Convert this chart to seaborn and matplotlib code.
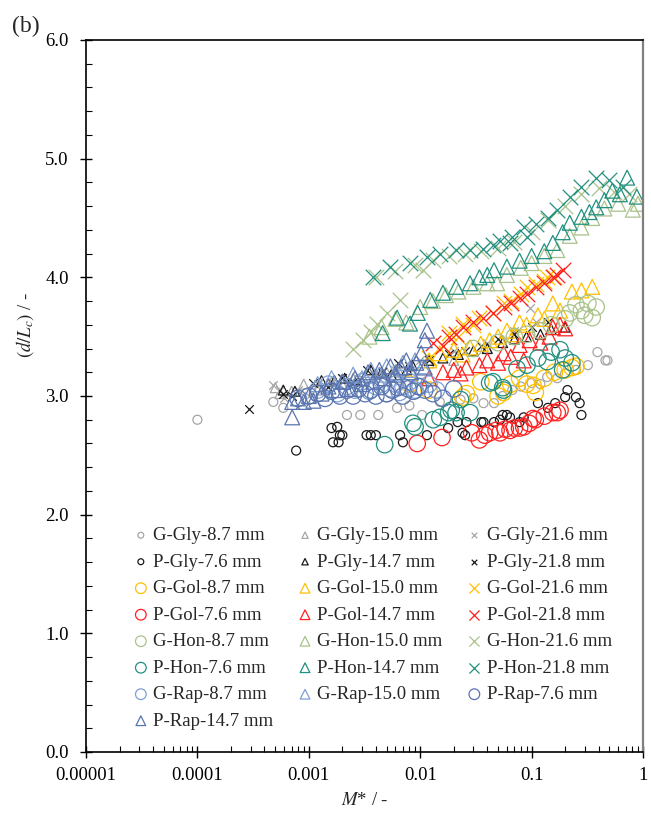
import numpy as np
import pandas as pd
import matplotlib
matplotlib.use("Agg")
import matplotlib.pyplot as plt
import seaborn as sns
from matplotlib.ticker import FixedLocator, FixedFormatter, LogLocator, MultipleLocator, NullFormatter

# ---- data: M* (x) and d/Lc (y) per series ----
g_gly_87_x = [1e-4, 4.8e-4, 5.9e-4, 2.2e-3, 2.9e-3, 4.2e-3, 6.2e-3, 8e-3, 0.0104, 0.015, 0.023, 0.03, 0.037,
              0.046, 0.055, 0.067, 0.08, 0.1, 0.12, 0.138, 0.17, 0.2, 0.25, 0.32, 0.39, 0.46, 0.48]
g_gly_87_y = [2.80, 2.95, 2.90, 2.84, 2.84, 2.84, 2.90, 2.92, 2.84, 2.95, 2.97, 2.98, 2.94,
              2.94, 3.00, 3.05, 3.08, 3.11, 3.10, 3.16, 3.15, 3.19, 3.22, 3.26, 3.37, 3.30, 3.30]
g_gly_150_x = [5e-4, 5.5e-4, 7e-4, 9e-4, 1.2e-3, 1.6e-3, 2e-3, 2.5e-3, 3e-3, 4e-3, 5e-3, 6.5e-3, 8e-3, 0.012, 0.02, 0.04]
g_gly_150_y = [3.07, 3.02, 3.04, 3.10, 3.05, 3.12, 3.10, 3.15, 3.12, 3.18, 3.20, 3.20, 3.25, 3.28, 3.30, 3.40]
g_gly_216_x = [4.8e-4, 5.5e-4, 6e-4, 8e-4, 1e-3, 1.2e-3, 1.6e-3, 2e-3, 3e-3, 4e-3, 6e-3, 0.01, 0.02, 0.04, 0.07, 0.096, 0.11]
g_gly_216_y = [3.09, 3.05, 2.98, 3.05, 3.00, 3.10, 3.12, 3.15, 3.15, 3.18, 3.22, 3.30, 3.38, 3.45, 3.55, 3.74, 3.62]
p_gly_76_x = [7.7e-4, 1.6e-3, 1.65e-3, 1.8e-3, 1.9e-3, 2.0e-3, 1.85e-3, 3.3e-3, 3.6e-3, 4.0e-3, 6.6e-3, 7.0e-3,
              0.0115, 0.0178, 0.0217, 0.024, 0.0253, 0.026, 0.0354, 0.037, 0.046, 0.052, 0.055, 0.06, 0.064,
              0.078, 0.085, 0.114, 0.14, 0.163, 0.2, 0.21, 0.25, 0.27, 0.28]
p_gly_76_y = [2.54, 2.73, 2.61, 2.74, 2.67, 2.67, 2.61, 2.67, 2.67, 2.67, 2.67, 2.61,
              2.67, 2.73, 2.78, 2.69, 2.67, 2.78, 2.78, 2.78, 2.78, 2.80, 2.84, 2.84, 2.82,
              2.78, 2.82, 2.94, 2.90, 2.94, 2.99, 3.05, 2.99, 2.94, 2.84]
p_gly_147_x = [5.9e-4, 7.5e-4, 1.3e-3, 1.7e-3, 2.1e-3, 2.7e-3, 3.6e-3, 4.5e-3, 5.5e-3, 7.6e-3, 8.5e-3, 0.012,
               0.016, 0.022, 0.03, 0.04, 0.055, 0.07, 0.09, 0.12, 0.15, 0.2]
p_gly_147_y = [3.05, 3.04, 3.13, 3.13, 3.15, 3.14, 3.22, 3.20, 3.18, 3.22, 3.26, 3.30,
               3.32, 3.35, 3.38, 3.40, 3.45, 3.48, 3.50, 3.52, 3.56, 3.58]
p_gly_218_x = [2.9e-4, 5.9e-4, 7e-4, 1.1e-3, 1.5e-3, 2e-3, 2.5e-3, 3.3e-3, 4.5e-3, 6.3e-3, 8e-3, 0.012, 0.018,
               0.025, 0.035, 0.05, 0.07, 0.1, 0.14]
p_gly_218_y = [2.89, 3.02, 3.00, 3.11, 3.08, 3.15, 3.12, 3.22, 3.20, 3.28, 3.25, 3.30, 3.35,
               3.38, 3.42, 3.48, 3.52, 3.58, 3.62]
g_gol_87_x = [0.008, 0.012, 0.024, 0.026, 0.035, 0.05, 0.056, 0.065, 0.078, 0.09, 0.103, 0.108, 0.13, 0.16, 0.2, 0.23, 0.25]
g_gol_87_y = [3.10, 3.05, 2.99, 3.02, 3.12, 3.00, 3.03, 3.10, 3.15, 3.10, 3.09, 3.03, 3.15, 3.20, 3.22, 3.24, 3.25]
g_gol_150_x = [0.012, 0.015, 0.02, 0.024, 0.028, 0.035, 0.042, 0.05, 0.06, 0.07, 0.078, 0.09, 0.114, 0.13, 0.155,
               0.18, 0.23, 0.28, 0.35]
g_gol_150_y = [3.30, 3.36, 3.39, 3.35, 3.41, 3.44, 3.47, 3.50, 3.55, 3.52, 3.62, 3.60, 3.68, 3.65, 3.78,
               3.72, 3.88, 3.89, 3.92]
g_gol_216_x = [0.012, 0.016, 0.018, 0.022, 0.024, 0.03, 0.034, 0.045, 0.056, 0.065, 0.08, 0.09, 0.11, 0.13, 0.138, 0.16]
g_gol_216_y = [3.32, 3.42, 3.53, 3.50, 3.61, 3.60, 3.66, 3.70, 3.78, 3.80, 3.86, 3.92, 3.94, 3.97, 4.00, 4.00]
p_gol_76_x = [0.0094, 0.0157, 0.029, 0.034, 0.038, 0.042, 0.048, 0.052, 0.058, 0.064, 0.07, 0.078, 0.085, 0.095,
              0.103, 0.108, 0.13, 0.155, 0.17, 0.18]
p_gol_76_y = [2.60, 2.65, 2.69, 2.63, 2.67, 2.69, 2.71, 2.69, 2.72, 2.71, 2.73, 2.73, 2.74, 2.77,
              2.81, 2.80, 2.83, 2.86, 2.86, 2.88]
p_gol_147_x = [0.012, 0.016, 0.02, 0.023, 0.026, 0.034, 0.04, 0.05, 0.056, 0.065, 0.078, 0.085, 0.096, 0.12,
               0.145, 0.155, 0.18, 0.2]
p_gol_147_y = [3.15, 3.20, 3.22, 3.19, 3.24, 3.26, 3.30, 3.28, 3.36, 3.33, 3.43, 3.30, 3.47, 3.45,
               3.50, 3.58, 3.60, 3.57]
p_gol_218_x = [0.013, 0.016, 0.018, 0.021, 0.024, 0.03, 0.037, 0.045, 0.056, 0.065, 0.078, 0.09, 0.11, 0.13,
               0.155, 0.17, 0.19]
p_gol_218_y = [3.45, 3.42, 3.50, 3.52, 3.58, 3.62, 3.66, 3.70, 3.75, 3.78, 3.83, 3.86, 3.92, 3.95,
               4.00, 4.02, 4.06]
g_hon_87_x = [0.03, 0.05, 0.07, 0.09, 0.12, 0.15, 0.2, 0.22, 0.25, 0.28, 0.3, 0.32, 0.35, 0.38]
g_hon_87_y = [3.40, 3.45, 3.50, 3.52, 3.55, 3.60, 3.65, 3.70, 3.77, 3.72, 3.68, 3.78, 3.66, 3.75]
g_hon_150_x = [0.0035, 0.0045, 0.006, 0.0075, 0.01, 0.013, 0.017, 0.022, 0.03, 0.04, 0.049, 0.06, 0.08, 0.1,
               0.13, 0.17, 0.22, 0.28, 0.35, 0.45, 0.6, 0.81, 0.9]
g_hon_150_y = [3.50, 3.58, 3.65, 3.62, 3.75, 3.80, 3.85, 3.88, 3.92, 3.95, 3.95, 4.02, 4.08, 4.12,
               4.18, 4.23, 4.35, 4.42, 4.50, 4.58, 4.62, 4.57, 4.62]
g_hon_216_x = [0.0025, 0.00307, 0.0036, 0.0041, 0.005, 0.0066, 0.0106, 0.004, 0.006, 0.009, 0.013, 0.018,
               0.025, 0.035, 0.05, 0.07, 0.1, 0.14, 0.2, 0.28, 0.4, 0.55, 0.75]
g_hon_216_y = [3.40, 3.47, 3.54, 3.61, 3.70, 3.81, 4.06, 4.00, 4.05, 4.10, 4.15, 4.18,
               4.20, 4.22, 4.25, 4.30, 4.38, 4.48, 4.60, 4.70, 4.75, 4.72, 4.70]
p_hon_76_x = [0.0048, 0.0086, 0.009, 0.0131, 0.015, 0.018, 0.019, 0.021, 0.023, 0.028, 0.042, 0.045, 0.055,
              0.056, 0.074, 0.091, 0.114, 0.138, 0.15, 0.18, 0.19, 0.2, 0.23]
p_hon_76_y = [2.59, 2.77, 2.74, 2.80, 2.82, 2.86, 2.88, 2.86, 2.97, 2.86, 3.11, 3.12, 3.07,
              3.05, 3.23, 3.26, 3.32, 3.29, 3.37, 3.39, 3.22, 3.32, 3.28]
p_hon_147_x = [0.0046, 0.0062, 0.0081, 0.0095, 0.0123, 0.016, 0.021, 0.028, 0.034, 0.04, 0.046, 0.06, 0.078,
               0.1, 0.13, 0.155, 0.19, 0.22, 0.28, 0.33, 0.38, 0.45, 0.53, 0.62, 0.72, 0.88]
p_hon_147_y = [3.53, 3.66, 3.61, 3.70, 3.81, 3.87, 3.92, 3.95, 4.00, 4.02, 4.06, 4.09, 4.14,
               4.18, 4.22, 4.29, 4.38, 4.46, 4.51, 4.55, 4.59, 4.65, 4.73, 4.70, 4.84, 4.68]
p_hon_218_x = [0.0038, 0.0054, 0.0081, 0.0115, 0.015, 0.021, 0.028, 0.037, 0.045, 0.052, 0.064, 0.067, 0.085,
               0.09, 0.11, 0.14, 0.17, 0.22, 0.28, 0.38, 0.5, 0.66]
p_hon_218_y = [4.00, 4.09, 4.12, 4.17, 4.20, 4.23, 4.23, 4.24, 4.27, 4.31, 4.29, 4.34, 4.42,
               4.34, 4.45, 4.50, 4.57, 4.68, 4.76, 4.84, 4.82, 4.76]
g_rap_87_x = [0.0012, 0.0015, 0.0018, 0.0022, 0.0026, 0.003, 0.0035, 0.004, 0.0045, 0.005, 0.0055, 0.006,
              0.0065, 0.007, 0.008, 0.009, 0.01, 0.012, 0.014]
g_rap_87_y = [3.05, 3.10, 3.02, 3.08, 3.05, 3.12, 3.04, 3.08, 3.10, 3.02, 3.06, 3.10,
              3.03, 3.08, 3.12, 3.05, 3.08, 3.10, 3.05]
g_rap_150_x = [0.0012, 0.0016, 0.002, 0.0025, 0.003, 0.0036, 0.0043, 0.005, 0.006, 0.007, 0.008, 0.009, 0.0105]
g_rap_150_y = [3.10, 3.15, 3.12, 3.18, 3.15, 3.22, 3.18, 3.25, 3.20, 3.28, 3.22, 3.30, 3.25]
p_rap_76_x = [0.0008, 0.001, 0.0012, 0.0014, 0.0016, 0.0019, 0.0022, 0.0025, 0.0028, 0.0032, 0.0036, 0.004,
              0.0045, 0.005, 0.0056, 0.0063, 0.007, 0.0078, 0.0087, 0.0096, 0.011, 0.013, 0.016, 0.02]
p_rap_76_y = [2.98, 3.00, 3.02, 2.98, 3.04, 3.00, 3.05, 3.00, 3.06, 3.02, 3.05, 3.00,
              3.08, 3.02, 3.05, 3.07, 3.00, 3.06, 3.04, 3.08, 3.05, 3.02, 2.98, 3.06]
p_rap_147_x = [0.00071, 0.00071, 0.0008, 0.0009, 0.001, 0.0011, 0.0013, 0.0015, 0.0017, 0.002, 0.0023, 0.0026,
               0.003, 0.0034, 0.0038, 0.0043, 0.0048, 0.0054, 0.006, 0.0067, 0.0075, 0.0083, 0.0092, 0.0102,
               0.011, 0.011, 0.0115]
p_rap_147_y = [2.82, 2.95, 2.98, 2.95, 3.00, 2.96, 3.02, 3.08, 3.05, 3.12, 3.06, 3.15,
               3.10, 3.20, 3.12, 3.22, 3.15, 3.25, 3.18, 3.24, 3.30, 3.20, 3.28, 3.36,
               3.47, 3.24, 3.55]

series_names = ["G-Gly-8.7 mm", "G-Gly-15.0 mm", "G-Gly-21.6 mm",
                "P-Gly-7.6 mm", "P-Gly-14.7 mm", "P-Gly-21.8 mm",
                "G-Gol-8.7 mm", "G-Gol-15.0 mm", "G-Gol-21.6 mm",
                "P-Gol-7.6 mm", "P-Gol-14.7 mm", "P-Gol-21.8 mm",
                "G-Hon-8.7 mm", "G-Hon-15.0 mm", "G-Hon-21.6 mm",
                "P-Hon-7.6 mm", "P-Hon-14.7 mm", "P-Hon-21.8 mm",
                "G-Rap-8.7 mm", "G-Rap-15.0 mm", "P-Rap-7.6 mm",
                "P-Rap-14.7 mm"]
series_x = [g_gly_87_x, g_gly_150_x, g_gly_216_x, p_gly_76_x, p_gly_147_x, p_gly_218_x,
            g_gol_87_x, g_gol_150_x, g_gol_216_x, p_gol_76_x, p_gol_147_x, p_gol_218_x,
            g_hon_87_x, g_hon_150_x, g_hon_216_x, p_hon_76_x, p_hon_147_x, p_hon_218_x,
            g_rap_87_x, g_rap_150_x, p_rap_76_x, p_rap_147_x]
series_y = [g_gly_87_y, g_gly_150_y, g_gly_216_y, p_gly_76_y, p_gly_147_y, p_gly_218_y,
            g_gol_87_y, g_gol_150_y, g_gol_216_y, p_gol_76_y, p_gol_147_y, p_gol_218_y,
            g_hon_87_y, g_hon_150_y, g_hon_216_y, p_hon_76_y, p_hon_147_y, p_hon_218_y,
            g_rap_87_y, g_rap_150_y, p_rap_76_y, p_rap_147_y]

x_ticks = [1e-5, 1e-4, 1e-3, 1e-2, 1e-1, 1]
x_tick_labels = ["0.00001", "0.0001", "0.001", "0.01", "0.1", "1"]

# colours per liquid/particle combination
colors = {"G-Gly": "#a6a6a6", "P-Gly": "#1a1a1a", "G-Gol": "#ffc000", "P-Gol": "#ff2020",
          "G-Hon": "#a9c28a", "P-Hon": "#21907f", "G-Rap": "#7f9fd3", "P-Rap": "#5a74b0"}


def style_for(name):
    key = name[:5]
    size = name.split("-")[2].split(" ")[0]
    marker = {"8.7": "o", "7.6": "o", "15.0": "^", "14.7": "^"}.get(size, "x")
    small = key.endswith("Gly")
    if marker == "o":
        s = 42 if small else 140
    elif marker == "^":
        s = 50 if small else 115
    else:
        s = 38 if small else 125
    return colors[key], marker, s


sns.set_style("white")
plt.rcParams["font.family"] = ["Liberation Serif", "DejaVu Serif"]
plt.rcParams["mathtext.fontset"] = "stix"

fig = plt.figure(figsize=(6.51, 8.14), dpi=100)
ax = fig.add_axes([86 / 651, 1 - 752 / 814, 557 / 651, 712 / 814])

for name, xs, ys in zip(series_names, series_x, series_y):
    c, m, s = style_for(name)
    df = pd.DataFrame({"x": xs, "y": ys})
    if m == "x":
        sns.scatterplot(data=df, x="x", y="y", marker=m, s=s, color=c, linewidth=0.9,
                        label=name, ax=ax)
    else:
        sns.scatterplot(data=df, x="x", y="y", marker=m, s=s, color=c, facecolor="none",
                        edgecolor=c, linewidth=0.9, label=name, ax=ax)

ax.set_xscale("log")
ax.set_xlim(1e-5, 1)
ax.set_ylim(0, 6)
ax.xaxis.set_major_locator(FixedLocator(x_ticks))
ax.xaxis.set_major_formatter(FixedFormatter(x_tick_labels))
ax.xaxis.set_minor_locator(LogLocator(base=10, subs=np.arange(2, 10), numticks=20))
ax.xaxis.set_minor_formatter(NullFormatter())
ax.yaxis.set_major_locator(MultipleLocator(1.0))
ax.yaxis.set_minor_locator(MultipleLocator(0.2))
ax.yaxis.set_major_formatter(plt.FuncFormatter(lambda v, p: f"{v:.1f}"))

ax.tick_params(which="major", direction="inout", length=9, width=1, labelsize=13.5, colors="black")
ax.tick_params(axis="y", which="major", pad=8)
ax.tick_params(axis="x", which="major", pad=6)
ax.tick_params(which="minor", direction="in", length=4, width=0.8, colors="black")
ax.tick_params(bottom=True, left=True, top=False, right=False)
ax.tick_params(which="minor", bottom=True, left=True, top=False, right=False)
for side in ["left", "bottom", "top"]:
    ax.spines[side].set_color("black")
    ax.spines[side].set_linewidth(1.2)
ax.spines["right"].set_color("#808080")
ax.spines["right"].set_linewidth(1.6)

ax.set_xlabel(r"$M$* / -", fontsize=13.5, labelpad=6)
ax.set_ylabel(r"$\mathit{(d/L}_\mathit{c}\mathit{)}$ / -", fontsize=13.5)
ax.yaxis.set_label_coords(-0.09, 0.6)

# legend is filled row by row in the original
handles, labels = ax.get_legend_handles_labels()
order = list(range(0, 22, 3)) + list(range(1, 22, 3)) + list(range(2, 22, 3))
ax.legend([handles[i] for i in order], [labels[i] for i in order], ncol=3, frameon=False,
          loc="upper left", bbox_to_anchor=(0.085, 0.316), fontsize=13.5, markerscale=0.65,
          handlelength=0.8, handletextpad=0.25, columnspacing=1.3, labelspacing=0.5,
          borderpad=0, borderaxespad=0)

fig.text(12 / 651, 1 - 32 / 814, "(b)", fontsize=17, va="baseline")

fig.savefig("out.png", dpi=100)
